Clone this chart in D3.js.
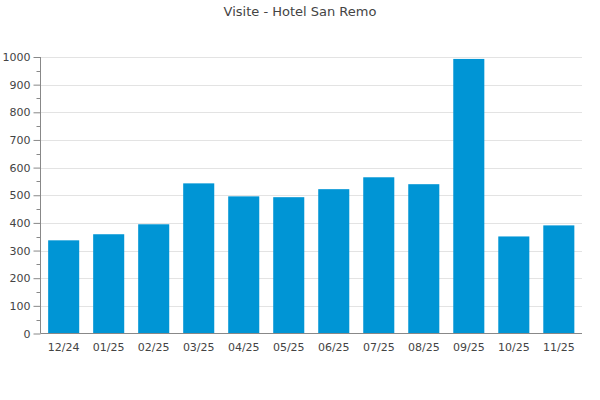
<!DOCTYPE html>
<html>
<head>
<meta charset="utf-8">
<script src="https://cdn.jsdelivr.net/npm/d3@7"></script>
<style>
  html, body { margin: 0; padding: 0; background: #fff; }
  svg { display: block; font-family: "DejaVu Sans", sans-serif; }
</style>
</head>
<body>
<svg id="chart" width="600" height="400"></svg>
<script>
const categories = ["12/24","01/25","02/25","03/25","04/25","05/25","06/25","07/25","08/25","09/25","10/25","11/25"];
const visits = [337, 359, 395, 543, 496, 493, 522, 565, 540, 993, 351, 391];
const yTicks = [0,100,200,300,400,500,600,700,800,900,1000];
const yMinorTicks = [50,150,250,350,450,550,650,750,850,950];
const title = "Visite - Hotel San Remo";

const svg = d3.select("#chart");
const m = { left: 40.5, right: 582, top: 57, bottom: 333.5 };

const x = d3.scaleBand().domain(categories).range([m.left, m.right]).paddingInner(0.31).paddingOuter(0.17);
const y = d3.scaleLinear().domain([0, 1000]).range([m.bottom, m.top]);

// title
svg.append("text").attr("x", 300).attr("y", 16).attr("text-anchor", "middle")
  .attr("font-size", 13).attr("fill", "#444").text(title);

// gridlines
svg.append("g").selectAll("line").data(yTicks.filter(d => d > 0)).join("line")
  .attr("x1", m.left).attr("x2", m.right)
  .attr("y1", d => Math.round(y(d)) + 0.5).attr("y2", d => Math.round(y(d)) + 0.5)
  .attr("stroke", "#e3e3e3").attr("stroke-width", 1);

// bars
svg.append("g").selectAll("rect").data(visits).join("rect")
  .attr("x", (d, i) => x(categories[i]))
  .attr("width", x.bandwidth())
  .attr("y", d => y(d))
  .attr("height", d => y(0) - y(d))
  .attr("fill", "#0095d5");

// y axis
const yAxis = d3.axisLeft(y).tickValues(yTicks).tickSize(7).tickPadding(3).tickFormat(d3.format("d"));
const gy = svg.append("g").attr("transform", `translate(${m.left},0)`).call(yAxis);
gy.select(".domain").attr("stroke", "#888").attr("d", `M0,${m.top}V${m.bottom}`);
gy.selectAll(".tick line").attr("stroke", "#888");
gy.selectAll(".tick text").attr("fill", "#444").attr("font-size", 11).attr("font-family", "DejaVu Sans, sans-serif");
svg.append("g").attr("transform", `translate(${m.left},0)`).selectAll("line").data(yMinorTicks).join("line")
  .attr("x1", -4).attr("x2", 0)
  .attr("y1", d => Math.round(y(d)) + 0.5).attr("y2", d => Math.round(y(d)) + 0.5)
  .attr("stroke", "#888");

// x axis
const xAxis = d3.axisBottom(x).tickSize(0).tickPadding(10);
const gx = svg.append("g").attr("transform", `translate(0,${m.bottom})`).call(xAxis);
gx.select(".domain").attr("stroke", "#888").attr("d", `M${m.left},0H${m.right}`);
gx.selectAll(".tick text").attr("fill", "#444").attr("font-size", 11).attr("font-family", "DejaVu Sans, sans-serif");
</script>
</body>
</html>
